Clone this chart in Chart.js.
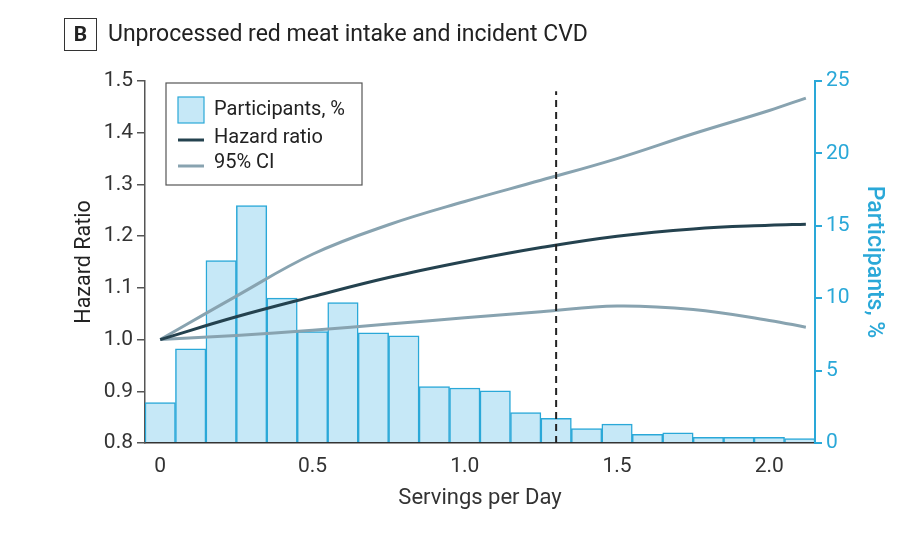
<!DOCTYPE html>
<html>
<head>
<meta charset="utf-8">
<script src="https://cdn.jsdelivr.net/npm/chart.js@4.4.1/dist/chart.umd.min.js"></script>
<style>
    body { margin: 0; background: #fff; }
    #wrap { position: relative; width: 913px; height: 540px; }
    #panel {
        position: absolute; left: 64px; top: 18px;
        width: 31px; height: 31px; border: 1.5px solid #333;
        font: bold 21px Roboto, sans-serif; color: #222;
        text-align: center; line-height: 31px;
    }
    #title {
        position: absolute; left: 108px; top: 20px; line-height: 34px;
        font: 23px Roboto, sans-serif; color: #222;
    }
</style>
</head>
<body>
<div id="wrap">
    <canvas id="chart" width="913" height="540"></canvas>
    <div id="panel">B</div>
    <div id="title">Unprocessed red meat intake and incident CVD</div>
</div>
<script>
// histogram bins (servings/day centres) and participants share, %
const binCentres = [0, 0.1, 0.2, 0.3, 0.4, 0.5, 0.6, 0.7, 0.8, 0.9, 1.0, 1.1,
                    1.2, 1.3, 1.4, 1.5, 1.6, 1.7, 1.8, 1.9, 2.0, 2.1];
const participants = [2.8, 6.5, 12.6, 16.4, 10.0, 7.7, 9.7, 7.6, 7.4, 3.9, 3.8, 3.6,
                      2.1, 1.7, 1.0, 1.3, 0.6, 0.7, 0.4, 0.4, 0.4, 0.3];

// spline read-offs for hazard ratio and 95% CI
const curveX   = [0, 0.25, 0.5, 0.75, 1.0, 1.25, 1.5, 1.75, 2.0, 2.12];
const hazard   = [1.0, 1.044, 1.083, 1.120, 1.151, 1.178, 1.200, 1.214, 1.221, 1.223];
const ciUpper  = [1.0, 1.084, 1.165, 1.222, 1.267, 1.308, 1.350, 1.398, 1.443, 1.467];
const ciLower  = [1.0, 1.008, 1.018, 1.030, 1.042, 1.054, 1.065, 1.058, 1.037, 1.024];

// reference line (median intake)
const refX = 1.3;
const refY = [0.8, 1.48];

const xTicks = [0, 0.5, 1.0, 1.5, 2.0];

const CYAN = '#2aa8d8';
const DARK = '#24424f';
const GREY = '#88a3b0';
const FONT = 'Roboto, sans-serif';

const PAD = { left: 72, right: 25, top: 81, bottom: 24 };

const toPoints = (xs, ys) => xs.map((x, i) => ({ x: x, y: ys[i] }));

// legend drawn inside the plot area, top left
const boxLegend = {
    id: 'boxLegend',
    afterDraw(chart) {
        const ctx = chart.ctx;
        const x = 166, y = 83, w = 196, h = 102;
        ctx.save();
        ctx.fillStyle = '#fff';
        ctx.fillRect(x, y, w, h);
        ctx.strokeStyle = '#555';
        ctx.lineWidth = 1.2;
        ctx.strokeRect(x, y, w, h);

        ctx.fillStyle = '#c6e8f7';
        ctx.fillRect(x + 12, y + 14, 26, 26);
        ctx.strokeStyle = CYAN;
        ctx.strokeRect(x + 12, y + 14, 26, 26);

        ctx.lineWidth = 3;
        ctx.strokeStyle = DARK;
        ctx.beginPath(); ctx.moveTo(x + 12, y + 57); ctx.lineTo(x + 38, y + 57); ctx.stroke();
        ctx.strokeStyle = GREY;
        ctx.beginPath(); ctx.moveTo(x + 12, y + 83); ctx.lineTo(x + 38, y + 83); ctx.stroke();

        ctx.fillStyle = '#222';
        ctx.font = '20px ' + FONT;
        ctx.textBaseline = 'middle';
        ctx.fillText('Participants, %', x + 48, y + 27);
        ctx.fillText('Hazard ratio', x + 48, y + 55);
        ctx.fillText('95% CI', x + 48, y + 80);
        ctx.restore();
    }
};

new Chart(document.getElementById('chart'), {
    type: 'bar',
    data: {
        datasets: [
            {
                type: 'line',
                label: 'Median',
                data: [{ x: refX, y: refY[0] }, { x: refX, y: refY[1] }],
                borderColor: '#222',
                borderWidth: 2,
                borderDash: [7, 5],
                pointRadius: 0,
                yAxisID: 'y',
                order: 0
            },
            {
                type: 'line',
                label: 'Hazard ratio',
                data: toPoints(curveX, hazard),
                borderColor: DARK,
                borderWidth: 3,
                tension: 0.4,
                pointRadius: 0,
                yAxisID: 'y',
                order: 1
            },
            {
                type: 'line',
                label: '95% CI upper',
                data: toPoints(curveX, ciUpper),
                borderColor: GREY,
                borderWidth: 3,
                tension: 0.4,
                pointRadius: 0,
                yAxisID: 'y',
                order: 2
            },
            {
                type: 'line',
                label: '95% CI lower',
                data: toPoints(curveX, ciLower),
                borderColor: GREY,
                borderWidth: 3,
                tension: 0.4,
                pointRadius: 0,
                yAxisID: 'y',
                order: 2
            },
            {
                label: 'Participants, %',
                data: toPoints(binCentres, participants),
                backgroundColor: '#c6e8f7',
                borderColor: CYAN,
                borderWidth: 1.5,
                barPercentage: 1.0,
                categoryPercentage: 1.0,
                yAxisID: 'y2',
                order: 5
            }
        ]
    },
    options: {
        responsive: false,
        animation: false,
        layout: { padding: PAD },
        plugins: {
            legend: { display: false },
            tooltip: { enabled: false }
        },
        scales: {
            x: {
                type: 'linear',
                offset: false,
                min: -0.05,
                max: 2.15,
                afterBuildTicks: axis => { axis.ticks = xTicks.map(v => ({ value: v })); },
                afterFit: axis => { axis.height = 540 - 443 - PAD.bottom; },
                grid: { display: false },
                border: { color: '#333', width: 1.5 },
                ticks: {
                    color: '#333',
                    padding: 3,
                    font: { family: FONT, size: 21 },
                    callback: v => v === 0 ? '0' : v.toFixed(1)
                },
                title: {
                    display: true,
                    text: 'Servings per Day',
                    color: '#333',
                    font: { family: FONT, size: 22 },
                    padding: { top: 10 }
                }
            },
            y: {
                position: 'left',
                min: 0.8,
                max: 1.5,
                afterFit: axis => { axis.width = 145 - PAD.left; },
                grid: { drawOnChartArea: false, tickLength: 8, color: '#555', lineWidth: 1.5 },
                border: { color: '#555', width: 1.5 },
                ticks: {
                    stepSize: 0.1,
                    color: '#333',
                    padding: 4,
                    font: { family: FONT, size: 21 },
                    callback: v => v.toFixed(1)
                },
                title: {
                    display: true,
                    text: 'Hazard Ratio',
                    color: '#222',
                    font: { family: FONT, size: 21.5 },
                    padding: 0
                }
            },
            y2: {
                position: 'right',
                min: 0,
                max: 25,
                afterFit: axis => { axis.width = 913 - 815 - PAD.right; },
                grid: { drawOnChartArea: false, tickLength: 7, color: CYAN, lineWidth: 2 },
                border: { color: CYAN, width: 2 },
                ticks: {
                    stepSize: 5,
                    color: CYAN,
                    padding: 4,
                    font: { family: FONT, size: 21 }
                },
                title: {
                    display: true,
                    text: 'Participants, %',
                    color: CYAN,
                    font: { family: FONT, size: 23, weight: '500' },
                    padding: 0
                }
            }
        }
    },
    plugins: [boxLegend]
});
</script>
</body>
</html>
